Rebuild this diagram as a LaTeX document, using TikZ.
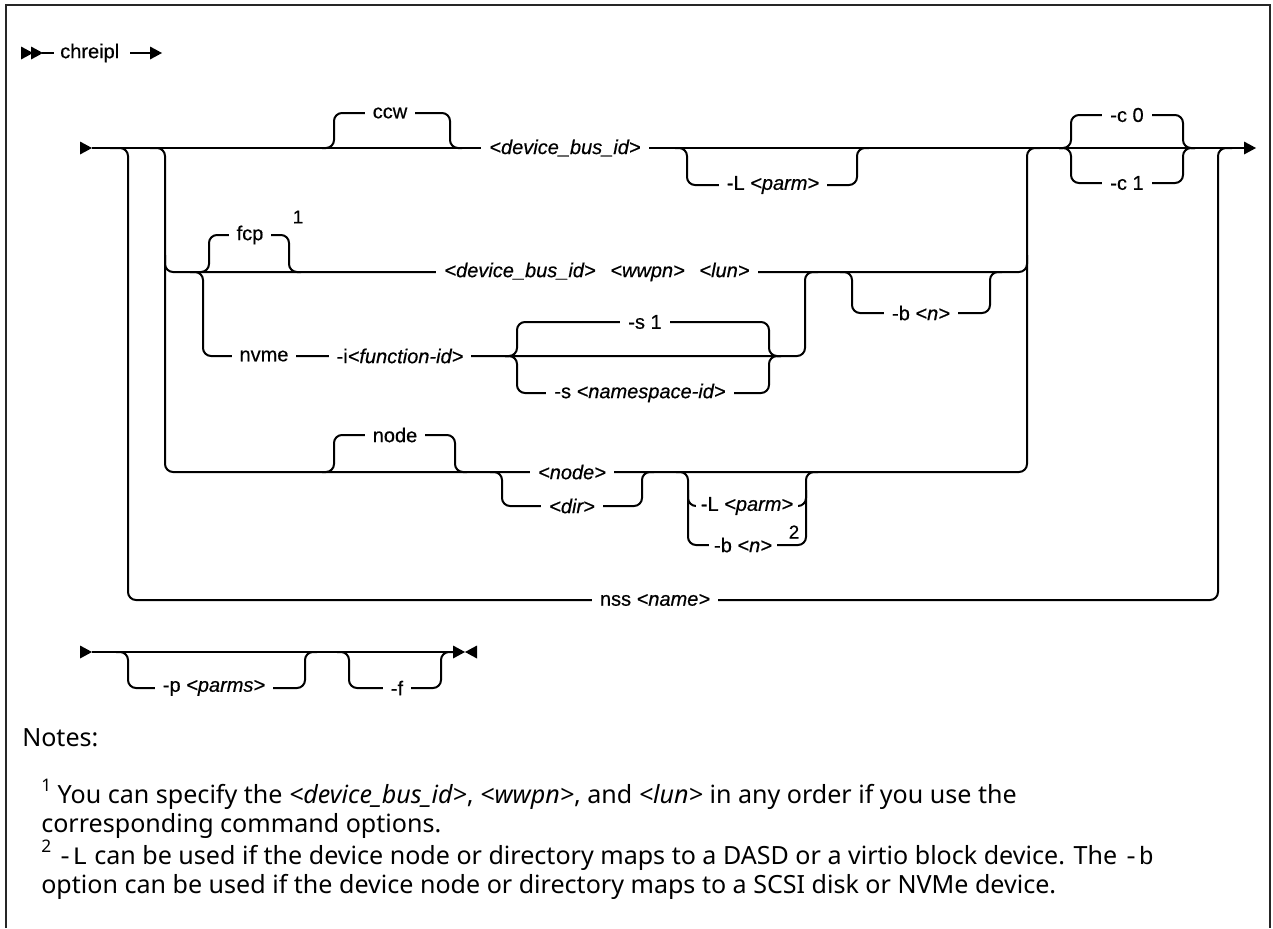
\documentclass[tikz,border=0pt]{standalone}
\usepackage{fontspec}
\setmainfont{Liberation Sans}
\newfontfamily\diagfont{Liberation Sans}[FakeBold=0.5]
\newfontfamily\notefont{Noto Sans}
\newfontfamily\notemono{Liberation Mono}
\newcommand\upbump[4]{\draw[rail] ({#1-12},#4) -- (#1,#4) -- (#1,#3) -- (#2,#3) -- (#2,#4) -- ({#2+12},#4);}
\newcommand\rtri[2]{\fill ({#1-12},{#2-6.5}) -- (#1,#2) -- ({#1-12},{#2+6.5}) -- cycle;}
\newcommand\ltri[2]{\fill ({#1+12},{#2-6.5}) -- (#1,#2) -- ({#1+12},{#2+6.5}) -- cycle;}
\begin{document}
\begin{tikzpicture}[x=0.75pt,y=-0.75pt,
  rail/.style={line width=1.5pt, rounded corners=6pt},
  lbl/.style={font=\diagfont\fontsize{15}{18}\selectfont, fill=white, inner xsep=6pt, inner ysep=1pt},
  supl/.style={font=\diagfont\fontsize{14}{16}\selectfont, inner sep=0pt},
  note/.style={font=\notefont\fontsize{18.8}{22}\selectfont, anchor=base west, inner sep=0pt}]
\useasboundingbox (0,0) rectangle (1273,928);
% frame
\draw[line width=2pt, black!85] (6,928) -- (6,5) -- (1270,5) -- (1270,928);

% title line
\rtri{33}{53}\rtri{43}{53}
\node[lbl, fill=none, inner xsep=0pt, anchor=west] (cmd) at (60,53) {chreipl};
\coordinate (t0) at (42,53);
\coordinate (t0e) at (54,53);
\draw[line width=1.5pt] (t0) -- (t0e);
\coordinate (t1s) at (130,53);
\coordinate (t1) at (150,53);
\draw[line width=1.5pt] (t1s) -- (t1);
\rtri{162}{53}

% main line
\rtri{92}{148}
\coordinate (mstart) at (92,148);
\coordinate (mend) at (1244,148);
\draw[line width=1.5pt] (mstart) -- (mend);
\rtri{1256}{148}

% bar A (nss)
\draw[rail] (110,148) -- (128,148) -- (128,600) -- (1218,600) -- (1218,148) -- (1232,148);
% bar B (node)
\draw[rail] (150,148) -- (165,148) -- (165,472) -- (1027,472) -- (1027,148) -- (1040,148);
% fcp line
\draw[rail] (165,255) -- (165,272) -- (1027,272) -- (1027,255);
% bar C (nvme)
\draw[rail] (190,272) -- (203,272) -- (203,356) -- (805,356) -- (805,272) -- (818,272);

% bumps and branches
\upbump{334}{450}{113}{148}     % ccw
\upbump{687}{857}{185}{148}     % -L <parm>
\upbump{1071}{1183}{115}{148}   % -c 0
\upbump{1071}{1183}{183}{148}   % -c 1
\upbump{209}{289}{235}{272}     % fcp
\upbump{852}{990}{313}{272}     % -b <n>
\upbump{517}{769}{322}{356}     % -s 1
\upbump{517}{769}{393}{356}     % -s <namespace-id>
\upbump{334}{455}{435}{472}     % node
\upbump{502}{642}{506}{472}     % <dir>
\upbump{688}{806}{545}{472}     % -b <n> 2
\draw[rail] (688,490) -- (688,506) -- (806,506) -- (806,490); % -L <parm>

% labels
\node[lbl] (ccw) at (390,113) {ccw};
\node[lbl] (dbid) at (565,148) {\textit{<device\_bus\_id>}};
\node[lbl] (L1) at (773,185) {-L \textit{<parm>}};
\node[lbl] (c0) at (1127,115) {-c 0};
\node[lbl] (c1) at (1127,183) {-c 1};
\node[lbl] (fcp) at (250,235) {fcp};
\node[supl] (s1note) at (298,217) {1};
\node[lbl] (fcptxt) at (597,272) {\textit{<device\_bus\_id>\hspace{11pt}<wwpn>\hspace{11pt}<lun>}};
\node[lbl] (b1) at (921,313) {-b \textit{<n>}};
\node[lbl] (nvme) at (264,356) {nvme};
\node[lbl] (fid) at (400,356) {-i\textit{<function-id>}};
\node[lbl] (s1) at (645,322) {-s 1};
\node[lbl] (sns) at (640,393) {-s \textit{<namespace-id>}};
\node[lbl] (node) at (395,435) {node};
\node[lbl] (nodev) at (572,472) {\textit{<node>}};
\node[lbl] (dir) at (572,506) {\textit{<dir>}};
\node[lbl, inner xsep=3.5pt] (L2) at (747,506) {-L \textit{<parm>}};
\node[lbl, inner xsep=4pt] (b2) at (743,545) {-b \textit{<n>}};
\node[supl] (s2note) at (794,532) {2};
\node[lbl] (nss) at (655,600) {nss \textit{<name>}};

% second line
\rtri{92}{652}
\coordinate (sstart) at (92,652);
\coordinate (send) at (463,652);
\draw[line width=1.5pt] (sstart) -- (send);
\upbump{128}{305}{688}{652}
\upbump{349}{441}{688}{652}
\rtri{465}{652}\ltri{465}{652}
\node[lbl] (p) at (214,688) {-p \textit{<parms>}};
\node[lbl] (f) at (397,688) {-f};

% notes
\node[note] (notes) at (22,746) {Notes:};
\node[note] (n1a) at (41,803) {\raisebox{0.45em}{\fontsize{13}{13}\selectfont 1} You can specify the \textit{<device\_bus\_id>}, \textit{<wwpn>}, and \textit{<lun>} in any order if you use the};
\node[note] (n1b) at (41,832) {corresponding command options.};
\node[note] (n2a) at (41,864) {\raisebox{0.45em}{\fontsize{13}{13}\selectfont 2} {\notemono -L} can be used if the device node or directory maps to a DASD or a virtio block device. The {\notemono -b}};
\node[note] (n2b) at (41,893) {option can be used if the device node or directory maps to a SCSI disk or NVMe device.};
\end{tikzpicture}
\end{document}
